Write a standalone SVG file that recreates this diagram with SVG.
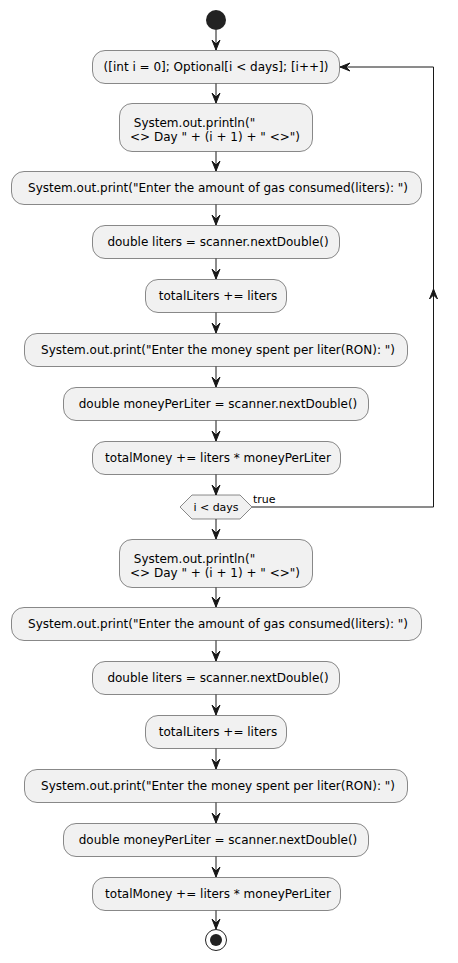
<svg xmlns="http://www.w3.org/2000/svg" width="458" height="963" viewBox="0 0 458 963">
<defs>
<style>
.box{fill:#F1F1F1;stroke:#181818;stroke-width:0.5}
.t{font-family:"DejaVu Sans",sans-serif;font-size:12px;fill:#000}
.s{font-family:"DejaVu Sans",sans-serif;font-size:11px;fill:#000}
.ln{stroke:#181818;stroke-width:1;fill:none}
.ah{fill:#181818;stroke:#181818;stroke-width:1}
</style>
<polygon id="ad" points="0,0 -4,-10 0,-6 4,-10"/>
</defs>
<rect width="458" height="963" fill="#fff"/>
<g id="start"><circle cx="216" cy="20" r="10" fill="#222"/></g>

<g id="n1"><rect class="box" x="92.5" y="50.5" width="247" height="33" rx="12.5"/><text class="t" x="216" y="71" text-anchor="middle">([int i = 0]; Optional[i &lt; days]; [i++])</text></g>
<g id="n2"><rect class="box" x="119.5" y="103.5" width="193" height="48" rx="12.5"/><text class="t" x="130" y="127" xml:space="preserve"> System.out.println("</text><text class="t" x="130" y="141">&lt;&gt; Day " + (i + 1) + " &lt;&gt;")</text></g>
<g id="n3"><rect class="box" x="11.5" y="171.5" width="410" height="33" rx="12.5"/><text class="t" x="218" y="192" text-anchor="middle">System.out.print("Enter the amount of gas consumed(liters): ")</text></g>
<g id="n4"><rect class="box" x="92.5" y="225.5" width="247" height="33" rx="12.5"/><text class="t" x="218" y="246" text-anchor="middle">double liters = scanner.nextDouble()</text></g>
<g id="n5"><rect class="box" x="145.5" y="279.5" width="141" height="33" rx="12.5"/><text class="t" x="218" y="300" text-anchor="middle">totalLiters += liters</text></g>
<g id="n6"><rect class="box" x="24.5" y="333.5" width="383" height="33" rx="12.5"/><text class="t" x="218" y="354" text-anchor="middle">System.out.print("Enter the money spent per liter(RON): ")</text></g>
<g id="n7"><rect class="box" x="63.5" y="387.5" width="305" height="33" rx="12.5"/><text class="t" x="218" y="408" text-anchor="middle">double moneyPerLiter = scanner.nextDouble()</text></g>
<g id="n8"><rect class="box" x="92.5" y="441.5" width="248" height="33" rx="12.5"/><text class="t" x="218" y="462" text-anchor="middle">totalMoney += liters * moneyPerLiter</text></g>
<g id="d1"><polygon class="box" points="180,507 192,495 240,495 252,507 240,519 192,519"/><text class="s" x="216" y="511" text-anchor="middle">i &lt; days</text></g>

<g id="n9"><rect class="box" x="119.5" y="539.5" width="193" height="48" rx="12.5"/><text class="t" x="130" y="563" xml:space="preserve"> System.out.println("</text><text class="t" x="130" y="577">&lt;&gt; Day " + (i + 1) + " &lt;&gt;")</text></g>
<g id="n10"><rect class="box" x="11.5" y="607.5" width="410" height="33" rx="12.5"/><text class="t" x="218" y="628" text-anchor="middle">System.out.print("Enter the amount of gas consumed(liters): ")</text></g>
<g id="n11"><rect class="box" x="92.5" y="661.5" width="247" height="33" rx="12.5"/><text class="t" x="218" y="682" text-anchor="middle">double liters = scanner.nextDouble()</text></g>
<g id="n12"><rect class="box" x="145.5" y="715.5" width="141" height="33" rx="12.5"/><text class="t" x="218" y="736" text-anchor="middle">totalLiters += liters</text></g>
<g id="n13"><rect class="box" x="24.5" y="769.5" width="383" height="33" rx="12.5"/><text class="t" x="218" y="790" text-anchor="middle">System.out.print("Enter the money spent per liter(RON): ")</text></g>
<g id="n14"><rect class="box" x="63.5" y="823.5" width="305" height="33" rx="12.5"/><text class="t" x="218" y="844" text-anchor="middle">double moneyPerLiter = scanner.nextDouble()</text></g>
<g id="n15"><rect class="box" x="92.5" y="877.5" width="248" height="33" rx="12.5"/><text class="t" x="218" y="898" text-anchor="middle">totalMoney += liters * moneyPerLiter</text></g>

<g id="end"><circle cx="216" cy="940" r="10.5" fill="#fff" stroke="#222" stroke-width="1"/><circle cx="216" cy="940" r="6" fill="#222"/></g>

<g id="connectors">
<path class="ln" d="M216,30V50 M216,83.5V103 M216,151.5V171 M216,204.5V225 M216,258.5V279 M216,312.5V333 M216,366.5V387 M216,420.5V441 M216,474.5V495 M216,519V539 M216,587.5V607 M216,640.5V661 M216,694.5V715 M216,748.5V769 M216,802.5V823 M216,856.5V877 M216,910.5V929"/>
<use href="#ad" class="ah" x="216" y="50"/>
<use href="#ad" class="ah" x="216" y="103"/>
<use href="#ad" class="ah" x="216" y="171"/>
<use href="#ad" class="ah" x="216" y="225"/>
<use href="#ad" class="ah" x="216" y="279"/>
<use href="#ad" class="ah" x="216" y="333"/>
<use href="#ad" class="ah" x="216" y="387"/>
<use href="#ad" class="ah" x="216" y="441"/>
<use href="#ad" class="ah" x="216" y="495"/>
<use href="#ad" class="ah" x="216" y="539"/>
<use href="#ad" class="ah" x="216" y="607"/>
<use href="#ad" class="ah" x="216" y="661"/>
<use href="#ad" class="ah" x="216" y="715"/>
<use href="#ad" class="ah" x="216" y="769"/>
<use href="#ad" class="ah" x="216" y="823"/>
<use href="#ad" class="ah" x="216" y="877"/>
<use href="#ad" class="ah" x="216" y="929"/>
<path class="ln" d="M252,507H433.5V67H340"/>
<polygon class="ah" points="340,67 350,63 346,67 350,71"/>
<polygon class="ah" points="433.5,289 429.5,299 433.5,295 437.5,299"/>
<text class="s" x="253" y="503">true</text>
</g>
</svg>
